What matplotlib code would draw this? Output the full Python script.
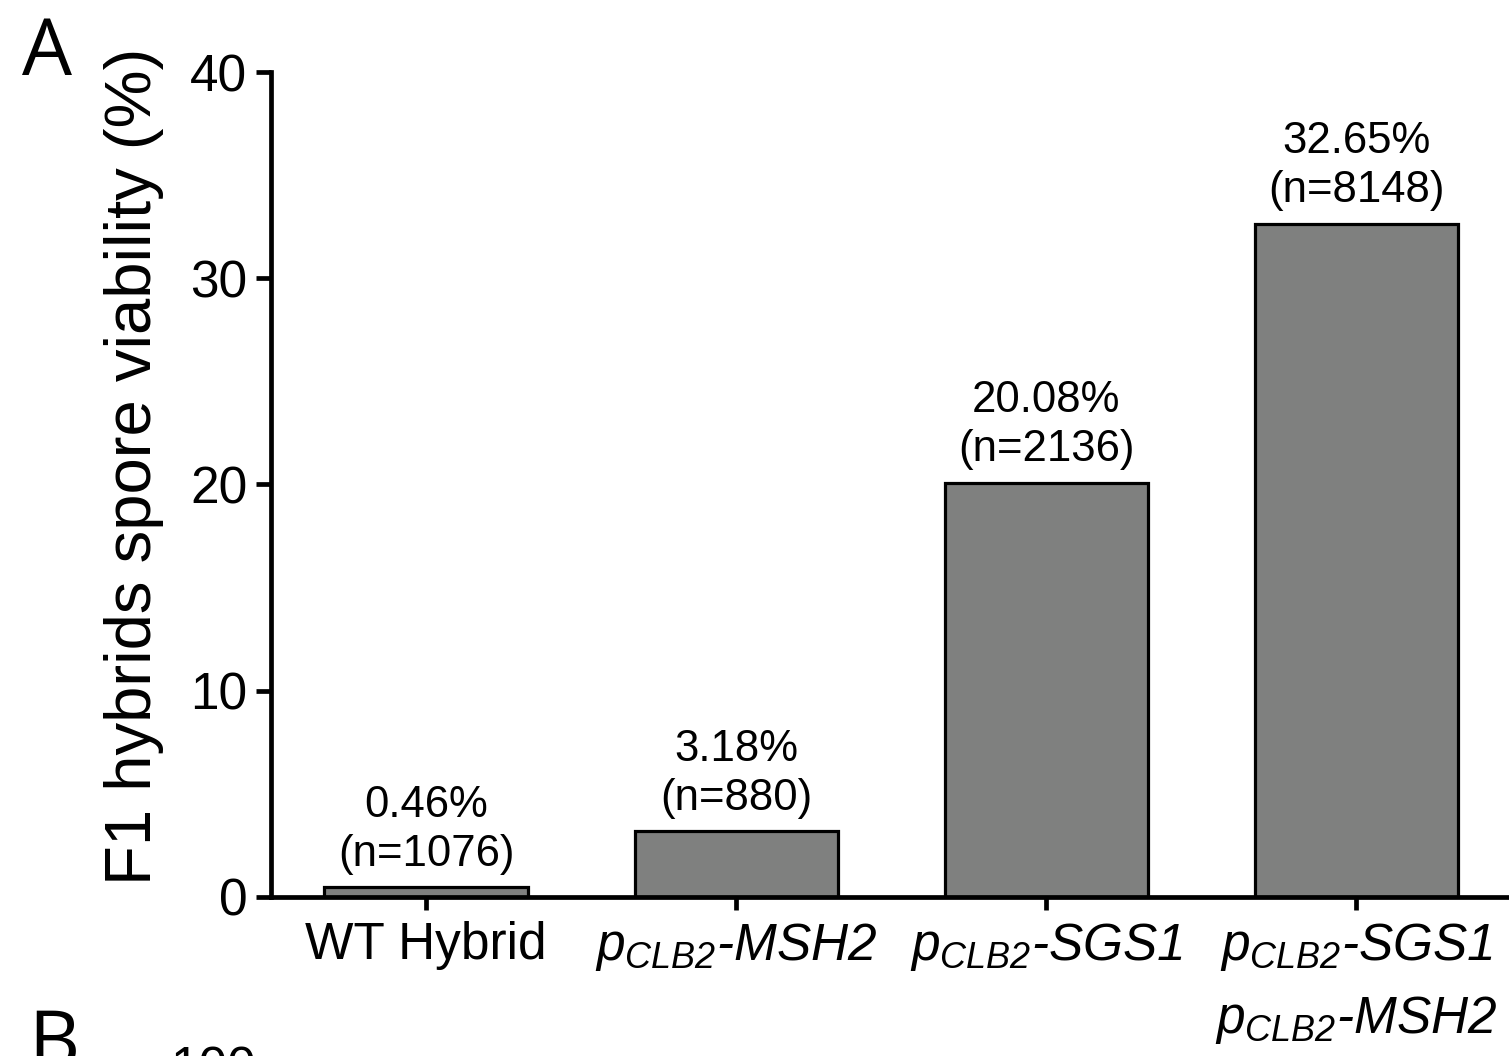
import matplotlib
matplotlib.use("Agg")
import matplotlib.pyplot as plt
import numpy as np

# tick labels are the only mathtext here and they are all italic,
# so map both rm and it to the italic face (digits fall back to rm)
plt.rcParams.update({
    "font.family": ["Liberation Sans", "DejaVu Sans"],
    "mathtext.fontset": "custom",
    "mathtext.rm": "Liberation Sans:italic",
    "mathtext.it": "Liberation Sans:italic",
    "mathtext.bf": "Liberation Sans:bold",
    "mathtext.default": "it",
})

strains = ["WT Hybrid",
           r"$p_{CLB2}$-$MSH2$",
           r"$p_{CLB2}$-$SGS1$",
           "$p_{CLB2}$-$SGS1$\n$p_{CLB2}$-$MSH2$"]
italic_label = [False, True, True, True]
viability = [0.46, 3.18, 20.08, 32.65]
n_spores = [1076, 880, 2136, 8148]
yticks = [0, 10, 20, 30, 40]

fig = plt.figure(figsize=(15.09, 10.56), dpi=100)
ax = fig.add_axes([0.1796, 0.1506, 0.8218, 0.7812])

x = np.arange(len(strains))
ax.bar(x, viability, width=0.655, color="#7f807f", edgecolor="black",
       linewidth=2.3, zorder=2)

for xi, v, n in zip(x, viability, n_spores):
    ax.text(xi, v + 0.6, f"{v:.2f}%\n(n={n})", ha="center", va="bottom",
            fontsize=31.5, linespacing=1.25)

ax.set_xlim(-0.5, 3.5)
ax.set_ylim(0, 40)
ax.set_yticks(yticks)
ax.set_xticks(x)
ax.set_xticklabels(strains, fontsize=37, linespacing=1.55)
for lab, it in zip(ax.get_xticklabels(), italic_label):
    if it:
        lab.set_fontstyle("italic")
ax.tick_params(axis="y", labelsize=37, width=3.4, length=11, pad=6)
ax.tick_params(axis="x", width=3.4, length=9, pad=8)

for side in ["top", "right"]:
    ax.spines[side].set_visible(False)
for side in ["left", "bottom"]:
    ax.spines[side].set_linewidth(3.4)
ax.spines["left"].set_capstyle("projecting")

ax.set_ylabel("F1 hybrids spore viability (%)", fontsize=47)
ax.yaxis.set_label_coords(-0.086, 0.522)

fig.text(0.0146, 0.929, "A", fontsize=57, family="Open Sans", va="baseline")
fig.text(0.0186, -0.0104, "B", fontsize=57, family="Open Sans", va="baseline")
fig.text(0.1127, -0.0265, "100", fontsize=37, va="baseline")

fig.savefig("out.png", dpi=100)
